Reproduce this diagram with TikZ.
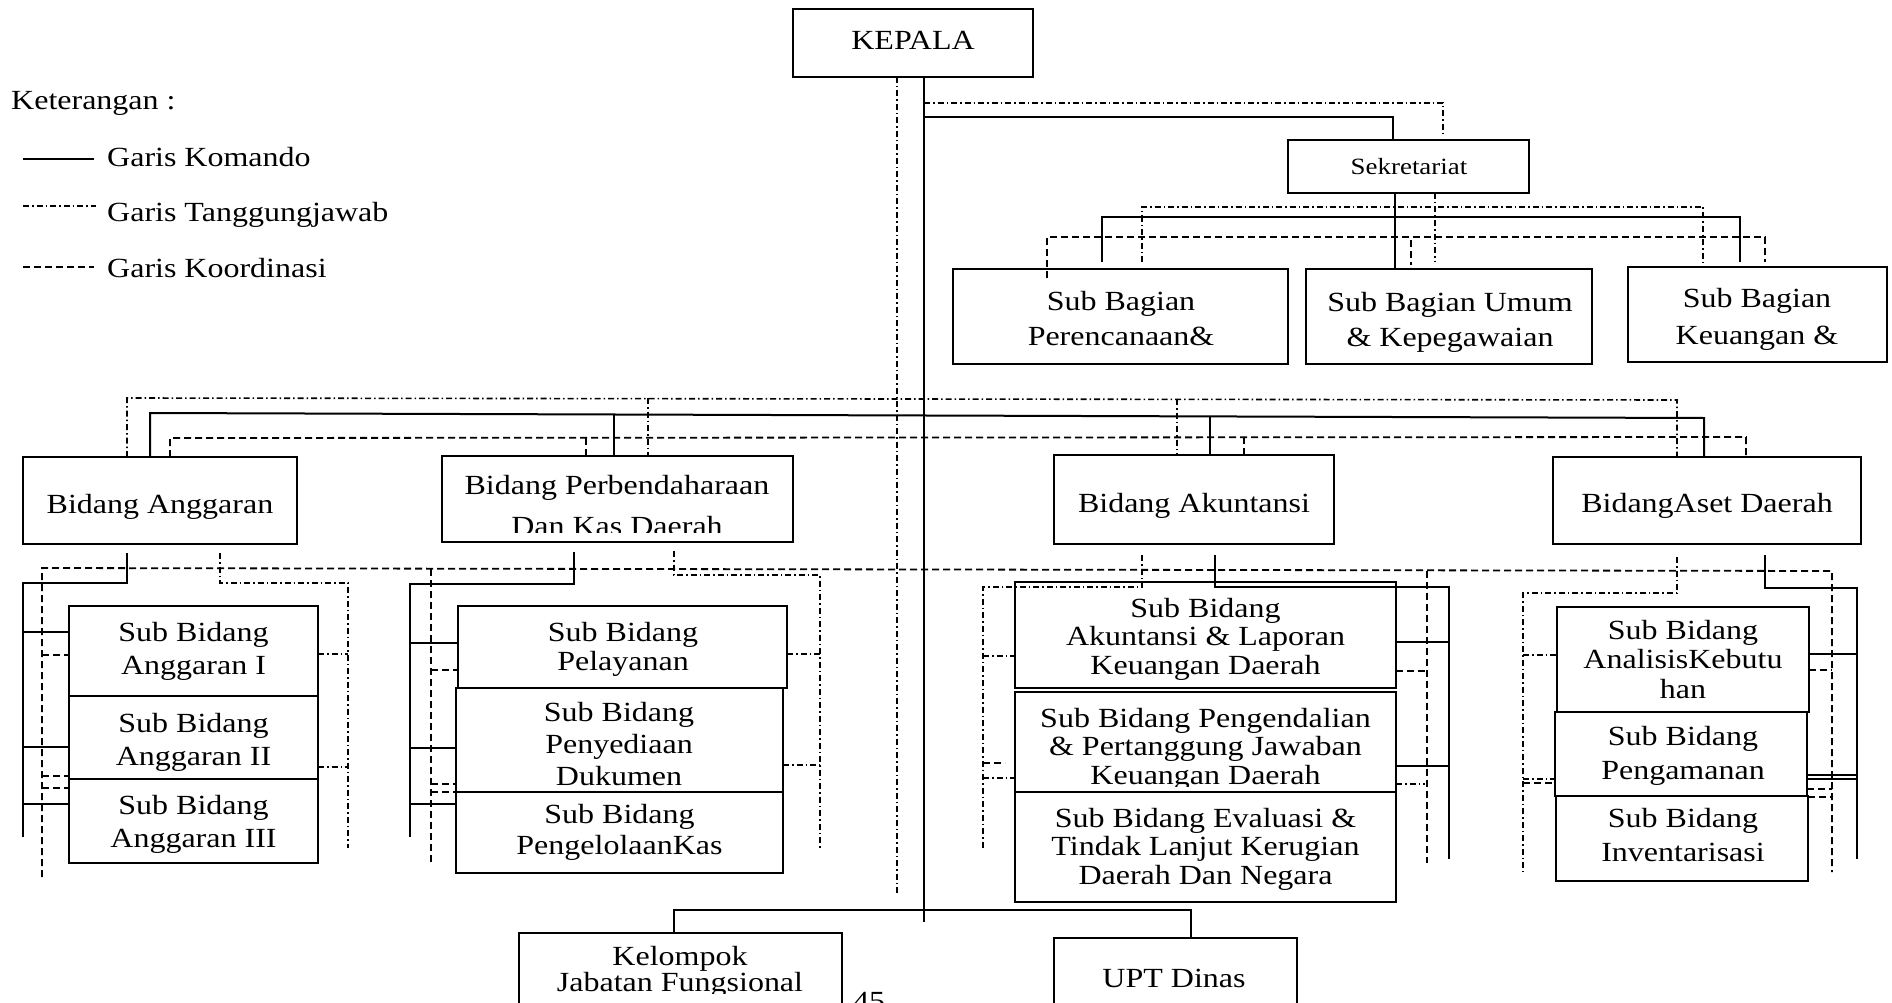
\documentclass[tikz,border=0pt]{standalone}
\usepackage{fontspec}
\setmainfont{Liberation Serif}[FakeStretch=1.155]
\usetikzlibrary{calc}
\newcommand\mkbox[5]{\node[box,minimum width={(#4)-(#2)},minimum height={(#5)-(#3)}] (#1) at ({((#2)+(#4))/2},{((#3)+(#5))/2}) {};}
\begin{document}
\begin{tikzpicture}[x=1pt,y=-1pt,
  box/.style={draw,line width=2.2pt,inner sep=0pt,outer sep=0pt},
  txt/.style={inner sep=0pt,align=center,font=\fontsize{27.7}{33}\selectfont},
  cmd/.style={line width=2pt},
  tgj/.style={line width=1.6pt,dash pattern=on 6pt off 3pt on 1.5pt off 3pt},
  koo/.style={line width=1.8pt,dash pattern=on 7pt off 4pt}]
\useasboundingbox[fill=white] (0,0) rectangle (1892,1003);

% ---------- boxes ----------
\mkbox{kepala}{793}{9}{1033}{77}
\mkbox{sekr}{1288}{140}{1529}{193}
\mkbox{sbPer}{953}{269}{1288}{364}
\mkbox{sbUmum}{1306}{269}{1592}{364}
\mkbox{sbKeu}{1628}{267}{1887}{362}
\mkbox{bAngg}{23}{457}{297}{544}
\mkbox{bPerb}{442}{456}{793}{542}
\mkbox{bAkun}{1054}{455}{1334}{544}
\mkbox{bAset}{1553}{457}{1861}{544}
\mkbox{sa1}{69}{606}{318}{696}
\mkbox{sa2}{69}{696}{318}{779}
\mkbox{sa3}{69}{779}{318}{863}
\mkbox{sp1}{458}{606}{787}{688}
\mkbox{sp2}{456}{688}{783}{792}
\mkbox{sp3}{456}{792}{783}{873}
\mkbox{sk1}{1015}{582}{1396}{688}
\mkbox{sk2}{1015}{692}{1396}{792}
\mkbox{sk3}{1015}{792}{1396}{902}
\mkbox{ss1}{1557}{607}{1809}{712}
\mkbox{ss2}{1555}{712}{1807}{796}
\mkbox{ss3}{1556}{796}{1808}{881}
\mkbox{kel}{519}{933}{842}{1030}
\mkbox{upt}{1054}{938}{1297}{1030}

% ---------- texts ----------
\node[txt,anchor=base] (tKepala) at (913,50) {KEPALA};
\node[txt,anchor=base,font=\fontsize{23.3}{28}\selectfont] (tSekr) at (1409,175) {Sekretariat};
\node[txt,font=\fontsize{27.7}{35}\selectfont] (tsbPer) at (1121,319) {Sub Bagian\\Perencanaan\&};
\node[txt,font=\fontsize{27.7}{35}\selectfont] (tsbUmum) at (1450,322) {Sub Bagian Umum\\\& Kepegawaian};
\node[txt,font=\fontsize{27.7}{37}\selectfont] (tsbKeu) at (1757,319) {Sub Bagian\\Keuangan \&};
\node[txt,anchor=base] (tbAngg) at (160,513) {Bidang Anggaran};
\begin{scope}
\clip (442,456) rectangle (793,532);
\node[txt,font=\fontsize{27.7}{41}\selectfont] (tbPerb) at (617,506) {Bidang Perbendaharaan\\Dan Kas Daerah};
\end{scope}
\node[txt,anchor=base] (tbAkun) at (1194,512) {Bidang Akuntansi};
\node[txt,anchor=base] (tbAset) at (1707,512) {BidangAset Daerah};
\node[txt] (tsa1) at (193.5,651) {Sub Bidang\\Anggaran I};
\node[txt] (tsa2) at (193.5,742) {Sub Bidang\\Anggaran II};
\node[txt] (tsa3) at (193.5,824) {Sub Bidang\\Anggaran III};
\node[txt,font=\fontsize{27.7}{29}\selectfont] (tsp1) at (623,649) {Sub Bidang\\Pelayanan};
\begin{scope}
\clip (456,688) rectangle (783,785);
\node[txt,font=\fontsize{27.7}{32}\selectfont] (tsp2) at (619,744.5) {Sub Bidang\\Penyediaan\\Dukumen};
\end{scope}
\node[txt,font=\fontsize{27.7}{31}\selectfont] (tsp3) at (619.5,832) {Sub Bidang\\PengelolaanKas};
\node[txt,font=\fontsize{27.7}{28.5}\selectfont] (tsk1) at (1205.5,639) {Sub Bidang\\Akuntansi \& Laporan\\Keuangan Daerah};
\begin{scope}
\clip (1015,692) rectangle (1396,786);
\node[txt,font=\fontsize{27.7}{28.5}\selectfont] (tsk2) at (1205.5,749) {Sub Bidang Pengendalian\\\& Pertanggung Jawaban\\Keuangan Daerah};
\end{scope}
\node[txt,font=\fontsize{27.7}{28.5}\selectfont] (tsk3) at (1205.5,849) {Sub Bidang Evaluasi \&\\Tindak Lanjut Kerugian\\Daerah Dan Negara};
\node[txt,font=\fontsize{27.7}{29.5}\selectfont] (tss1) at (1683,659.5) {Sub Bidang\\AnalisisKebutu\\han};
\node[txt,font=\fontsize{27.7}{34}\selectfont] (tss2) at (1683,755.5) {Sub Bidang\\Pengamanan};
\node[txt,font=\fontsize{27.7}{34}\selectfont] (tss3) at (1683,835.5) {Sub Bidang\\Inventarisasi};
\begin{scope}
\clip (519,933) rectangle (842,993);
\node[txt,font=\fontsize{27.7}{25}\selectfont] (tkel) at (680,972) {Kelompok\\Jabatan Fungsional};
\end{scope}
\node[txt,anchor=base] (tupt) at (1174,987) {UPT Dinas};
\node[txt,anchor=base] (tpg) at (869,1010) {45};

% ---------- legend ----------
\node[txt,anchor=base west] (leg0) at (11,110) {Keterangan :};
\node[txt,anchor=base west] (leg1) at (107,167) {Garis Komando};
\node[txt,anchor=base west] (leg2) at (107,222) {Garis Tanggungjawab};
\node[txt,anchor=base west] (leg3) at (107,277) {Garis Koordinasi};
\coordinate (lg1) at (23,159);
\coordinate (lg2) at (23,206);
\coordinate (lg3) at (23,267);
\draw[cmd] (lg1) -- (94,159);
\draw[tgj] (lg2) -- (96,206);
\draw[koo] (lg3) -- (94,267);

% ---------- Kepala ----------
\draw[cmd] (924,0 |- kepala.south) -- (924,922);
\draw[tgj] (897,0 |- kepala.south) -- (897,893);
\draw[cmd] (924,117) -- (1393,117) -- (1393,0 |- sekr.north);
\draw[tgj] (924,103) -- (1443,103) -- (1443,134);

% ---------- Sekretariat ----------
\draw[cmd] (1395,0 |- sekr.south) -- (1395,0 |- sbUmum.north);
\draw[cmd] (1102,262) -- (1102,217) -- (1740,217) -- (1740,262);
\draw[tgj] (1435,0 |- sekr.south) -- (1435,262);
\draw[tgj] (1142,262) -- (1142,207) -- (1703,207) -- (1703,262);
\draw[koo] (1047,278) -- (1047,237) -- (1765,237) -- (1765,262);
\draw[koo] (1411,240) -- (1411,265);

% ---------- Bidang level ----------
\draw[tgj] (127,0 |- bAngg.north) -- (127,398) -- (1677,400) -- (1677,0 |- bAset.north);
\draw[tgj] (648,398) -- (648,0 |- bPerb.north);
\draw[tgj] (1177,399) -- (1177,0 |- bAkun.north);
\draw[cmd] (150,0 |- bAngg.north) -- (150,413) -- (1704,418) -- (1704,0 |- bAset.north);
\draw[cmd] (614,414.5) -- (614,0 |- bPerb.north);
\draw[cmd] (1210,416.4) -- (1210,0 |- bAkun.north);
\draw[koo] (170,0 |- bAngg.north) -- (170,438) -- (1746,437) -- (1746,0 |- bAset.north);
\draw[koo] (586,438) -- (586,0 |- bPerb.north);
\draw[koo] (1244,437) -- (1244,0 |- bAkun.north);

% ---------- long coordination line ----------
\draw[koo] (42,877) -- (42,568) -- (1832,571) -- (1832,872);
\draw[koo] (431,569) -- (431,863);
\draw[koo] (1427,570.5) -- (1427,863);

% ---------- Anggaran group ----------
\draw[cmd] (127,553) -- (127,583) -- (23,583) -- (23,837);
\draw[cmd] (23,632) -- (sa1.west |- 0,632);
\draw[cmd] (23,747) -- (sa2.west |- 0,747);
\draw[cmd] (23,804) -- (sa3.west |- 0,804);
\draw[koo] (42,655) -- (sa1.west |- 0,655);
\draw[koo] (42,776) -- (sa2.west |- 0,776);
\draw[koo] (42,788) -- (sa3.west |- 0,788);
\draw[tgj] (220,553) -- (220,583) -- (348,583) -- (348,848);
\draw[tgj] (sa1.east |- 0,654) -- (348,654);
\draw[tgj] (sa2.east |- 0,767) -- (348,767);

% ---------- Perbendaharaan group ----------
\draw[cmd] (574,552) -- (574,584) -- (410,584) -- (410,837);
\draw[cmd] (410,643) -- (sp1.west |- 0,643);
\draw[cmd] (410,748) -- (sp2.west |- 0,748);
\draw[cmd] (410,804) -- (sp3.west |- 0,804);
\draw[koo] (431,670) -- (sp1.west |- 0,670);
\draw[koo] (431,784) -- (sp2.west |- 0,784);
\draw[koo] (431,792) -- (sp3.west |- 0,792);
\draw[tgj] (674,551) -- (674,575) -- (820,575) -- (820,848);
\draw[tgj] (sp1.east |- 0,654) -- (820,654);
\draw[tgj] (sp2.east |- 0,765) -- (820,765);

% ---------- Akuntansi group ----------
\draw[cmd] (1215,555) -- (1215,587) -- (1449,587) -- (1449,859);
\draw[cmd] (sk1.east |- 0,642) -- (1449,642);
\draw[cmd] (sk2.east |- 0,766) -- (1449,766);
\draw[koo] (sk1.east |- 0,671) -- (1427,671);
\draw[tgj] (sk2.east |- 0,784) -- (1425,784);
\draw[tgj] (1142,555) -- (1142,587) -- (983,587) -- (983,848);
\draw[tgj] (983,656) -- (sk1.west |- 0,656);
\draw[tgj] (983,778) -- (sk2.west |- 0,778);
\draw[koo] (983,763) -- (1005,763);

% ---------- Aset group ----------
\draw[cmd] (1765,555) -- (1765,588) -- (1857,588) -- (1857,859);
\draw[cmd] (ss1.east |- 0,654) -- (1857,654);
\draw[cmd] (ss2.east |- 0,775) -- (1857,775);
\draw[cmd] (ss2.east |- 0,779) -- (1857,779);
\draw[koo] (ss1.east |- 0,670) -- (1832,670);
\draw[koo] (ss2.east |- 0,789) -- (1832,789);
\draw[koo] (ss3.east |- 0,797) -- (1832,797);
\draw[tgj] (1677,557) -- (1677,593) -- (1523,593) -- (1523,872);
\draw[tgj] (1523,655) -- (ss1.west |- 0,655);
\draw[tgj] (1523,779) -- (ss2.west |- 0,779);
\draw[koo] (1523,783) -- (ss2.west |- 0,783);

% ---------- bottom ----------
\draw[cmd] (674,0 |- kel.north) -- (674,910) -- (1191,910) -- (1191,0 |- upt.north);
\end{tikzpicture}
\end{document}
